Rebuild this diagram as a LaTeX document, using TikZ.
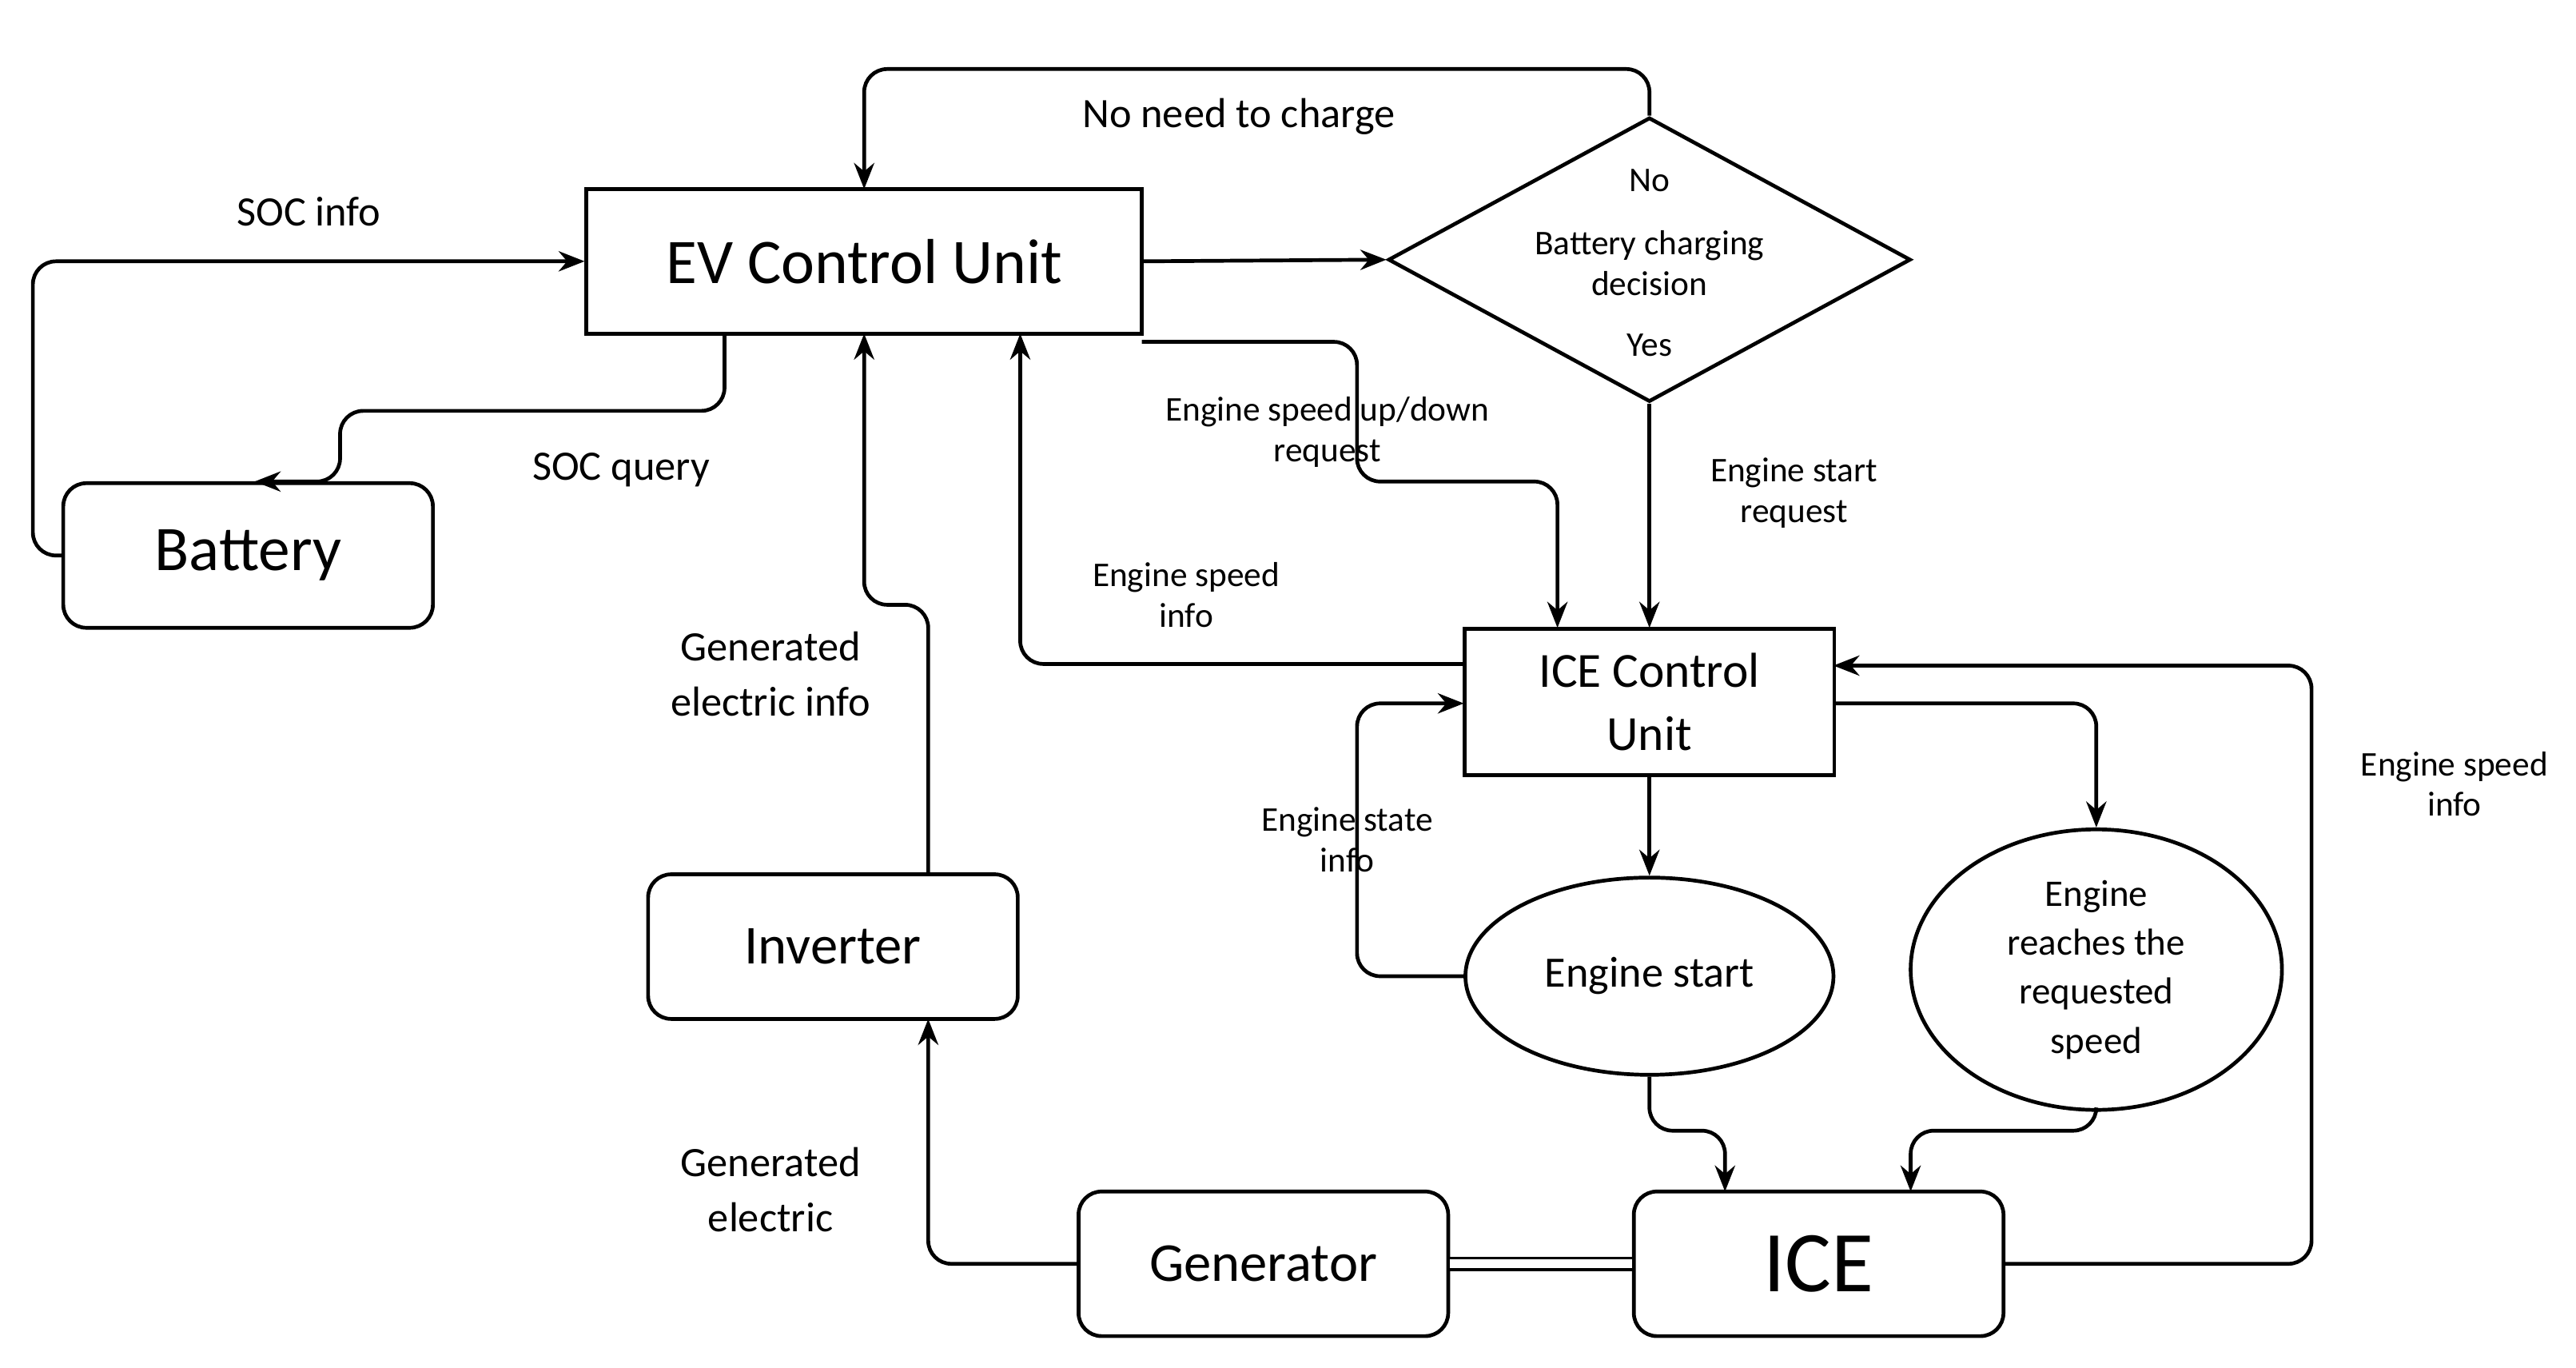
\documentclass[tikz,border=0pt]{standalone}
\usepackage{fontspec}
\setmainfont{Carlito}
\usetikzlibrary{shapes.geometric,arrows.meta}
\begin{document}
\begin{tikzpicture}[x=0.02cm,y=-0.02cm,
 line width=1.3pt,
 box/.style={draw,minimum width=225*0.02cm,minimum height=88*0.02cm,rounded corners=8pt,align=center},
 sq/.style={draw,align=center},
 conn/.style={-{Stealth[length=9pt,width=7pt]},rounded corners=8pt},
 lbl/.style={align=center,font=\fontsize{12}{14}\selectfont},
 lbb/.style={align=center,font=\fontsize{14.5}{19}\selectfont}]
\useasboundingbox (0,0) rectangle (1568,832);
\node[sq,minimum width=338*0.02cm,minimum height=88*0.02cm,font=\fontsize{22}{26}\selectfont] (ev) at (526,159) {EV Control Unit};
\node[box,font=\fontsize{22}{26}\selectfont] (bat) at (151,338) {Battery};
\node[draw,diamond,minimum width=318*0.02cm,minimum height=173*0.02cm,inner sep=0pt] (dec) at (1004,158) {};
\node[lbl] (no) at (1004,110) {No};
\node[lbl] (dtxt) at (1004,160) {Battery charging\\decision};
\node[lbl] (yes) at (1004,210) {Yes};
\node[sq,minimum width=225*0.02cm,minimum height=89*0.02cm,font=\fontsize{17}{22}\selectfont] (icu) at (1004,427) {ICE Control\\Unit};
\node[box,font=\fontsize{19}{22}\selectfont] (inv) at (507,576) {Inverter};
\node[draw,ellipse,minimum width=224*0.02cm,minimum height=120*0.02cm,font=\fontsize{15}{18}\selectfont] (es) at (1004,594) {Engine start};
\node[draw,ellipse,minimum width=226*0.02cm,minimum height=120*0.02cm,align=center,font=\fontsize{13}{17}\selectfont] (er) at (1276,590) {Engine\\reaches the\\requested\\speed};
\node[box,font=\fontsize{19}{22}\selectfont] (gen) at (769,769) {Generator};
\node[box,font=\fontsize{30}{34}\selectfont] (ice) at (1107,769) {ICE};

\coordinate (c1) at (1004,42);
\draw[conn] (dec.north) -- (c1) -| (526,115);
\node[lbb] (l1) at (754,71) {No need to charge};
\draw[conn] (ev.east) -- (dec.west);
\draw[conn] (bat.west) -- (20,338) |- (ev.west);
\node[lbb] (l2) at (188,129) {SOC info};
\draw[conn] (441,203) |- (207,250) |- (155,293);
\node[lbb] (l3) at (378,286) {SOC query};
\draw[conn] (565,531) |- (526,368) -- (526,203);
\node[lbb] (l4) at (469,410) {Generated\\electric info};
\draw[conn] (gen.west) -| (565,620);
\node[lbb] (l5) at (469,724) {Generated\\electric};
\draw[double,double distance=3pt,line width=1pt] (gen.east) -- (ice.west);
\draw[conn] (695,208) -| (826,293) -| (948,382);
\node[lbl] (l6) at (808,263) {Engine speed up/down\\request};
\draw[conn] (dec.south) -- (1004,382);
\node[lbl] (l7) at (1092,300) {Engine start\\request};
\draw[conn] (891,404) -| (621,203);
\node[lbl] (l8) at (722,362) {Engine speed\\info};
\draw[conn] (es.west) -| (826,428) -- (891,428);
\node[lbl] (l9) at (820,511) {Engine state\\info};
\draw[conn] (icu.south) -- (es.north);
\draw[conn] (1116,428) -| (er.north);
\draw[conn] (es.south) |- (1050,688) -- (1050,725);
\draw[conn] (er.south) |- (1163,688) -- (1163,725);
\draw[conn] (ice.east) -| (1407,405) -- (1116,405);
\node[lbl] (l10) at (1494,477) {Engine speed\\info};
\end{tikzpicture}
\end{document}
